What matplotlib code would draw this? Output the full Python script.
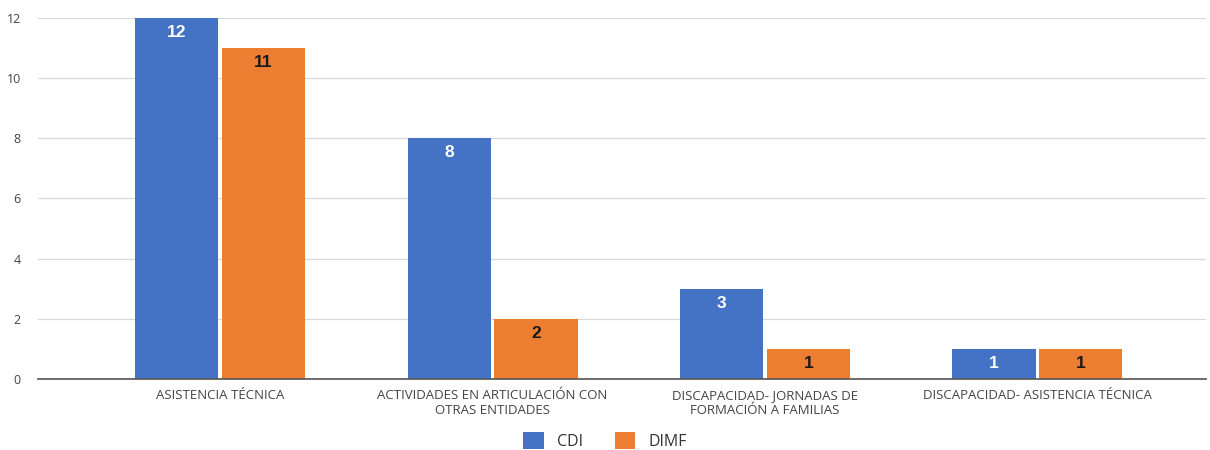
import numpy as np
import matplotlib
matplotlib.use("Agg")
import matplotlib.pyplot as plt

plt.rcParams['font.family'] = ['Open Sans', 'DejaVu Sans']

categories = ["ASISTENCIA TÉCNICA",
              "ACTIVIDADES EN ARTICULACIÓN CON\nOTRAS ENTIDADES",
              "DISCAPACIDAD- JORNADAS DE\nFORMACIÓN A FAMILIAS",
              "DISCAPACIDAD- ASISTENCIA TÉCNICA"]
cdi = [12, 8, 3, 1]
dimf = [11, 2, 1, 1]
y_ticks = [0, 2, 4, 6, 8, 10, 12]

blue = "#4472C4"
orange = "#ED7D31"

fig = plt.figure(figsize=(12.1, 4.5), dpi=100)
ax = fig.add_axes([0.031, 0.158, 0.966, 0.802])

x = np.arange(len(categories))
w = 0.305
b1 = ax.bar(x - w / 2 - 0.007, cdi, w, color=blue, label="CDI", zorder=3)
b2 = ax.bar(x + w / 2 + 0.007, dimf, w, color=orange, label="DIMF", zorder=3)

for bars, col in ((b1, "white"), (b2, "#1a1a1a")):
    for r in bars:
        ax.annotate(f"{int(r.get_height())}",
                    (r.get_x() + r.get_width() / 2, r.get_height()),
                    xytext=(0, -5), textcoords="offset points",
                    ha="center", va="top", fontsize=12.5, fontweight="bold",
                    color=col, family=['Liberation Sans', 'DejaVu Sans'], zorder=4)

ax.set_xlim(-0.67, 3.62)
ax.set_ylim(0, 12)
ax.set_yticks(y_ticks)
ax.set_xticks(x)
ax.set_xticklabels(categories, fontsize=9.5, color="#444444", linespacing=1.2)
ax.tick_params(axis="y", labelsize=9, labelcolor="#444444", length=0, pad=12)
ax.tick_params(axis="x", length=0, pad=7)
ax.grid(axis="y", color="#d9d9d9", linewidth=0.9, zorder=0)
for s in ["top", "right", "left"]:
    ax.spines[s].set_visible(False)
ax.spines["bottom"].set_color("#555555")
ax.spines["bottom"].set_linewidth(1.2)
ax.spines["bottom"].set_zorder(5)

fig.legend(loc="lower center", bbox_to_anchor=(0.5, -0.032), ncol=2,
           frameon=False, fontsize=11.5, handlelength=1.3, handleheight=1.3,
           columnspacing=2.0, labelcolor="#333333")

fig.savefig("out.png", dpi=100)
